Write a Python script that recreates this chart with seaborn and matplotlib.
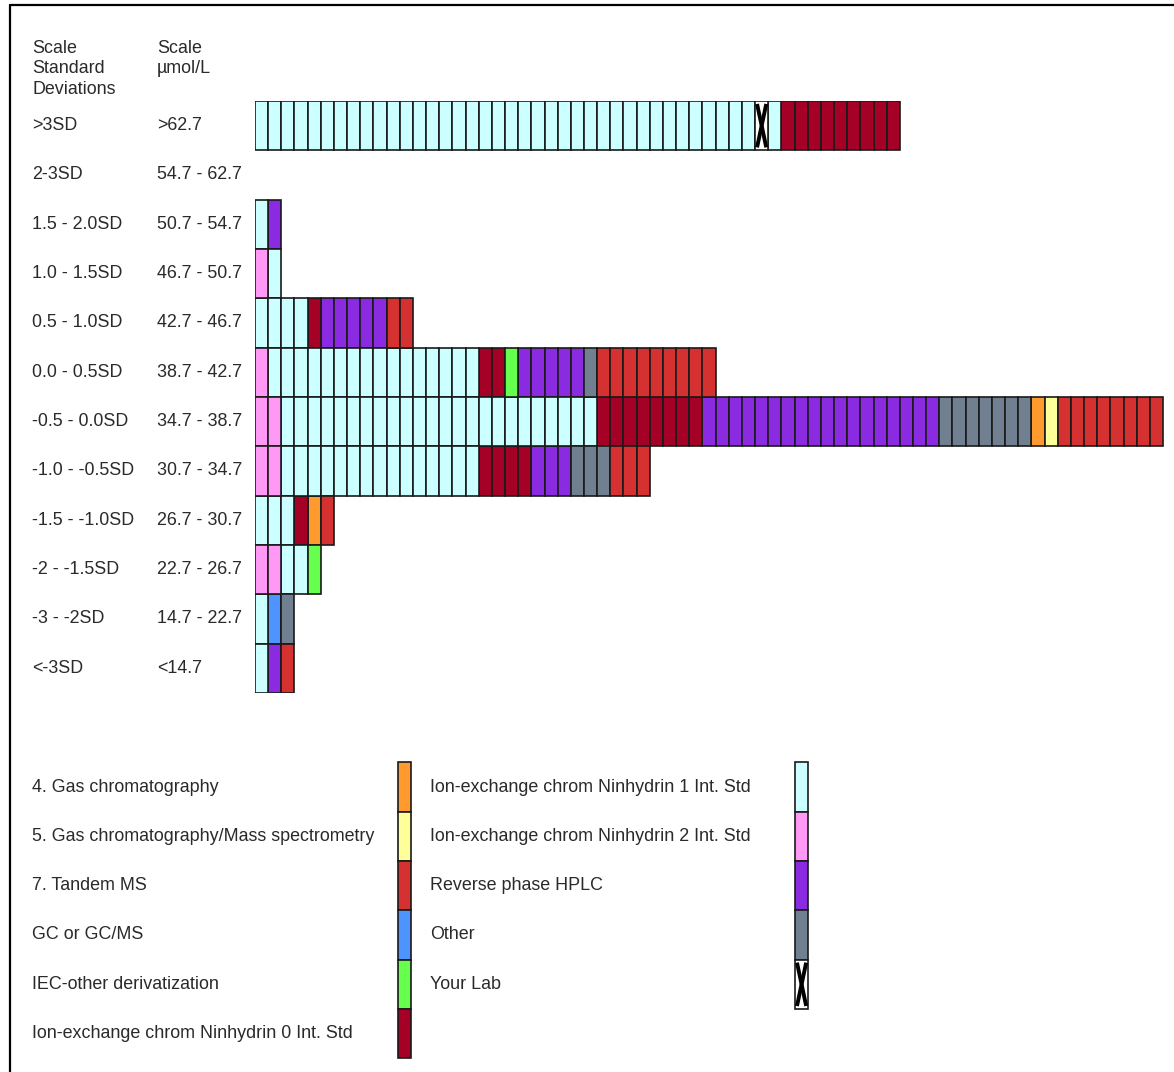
import matplotlib
matplotlib.use("Agg")
import matplotlib.pyplot as plt
from matplotlib import transforms
from matplotlib.lines import Line2D
import seaborn as sns
import pandas as pd

# Row labels (top to bottom)
sd_labels = [">3SD", "2-3SD", "1.5 - 2.0SD", "1.0 - 1.5SD", "0.5 - 1.0SD", "0.0 - 0.5SD",
             "-0.5 - 0.0SD", "-1.0 - -0.5SD", "-1.5 - -1.0SD", "-2 - -1.5SD", "-3 - -2SD", "<-3SD"]
umol_labels = [">62.7", "54.7 - 62.7", "50.7 - 54.7", "46.7 - 50.7", "42.7 - 46.7", "38.7 - 42.7",
               "34.7 - 38.7", "30.7 - 34.7", "26.7 - 30.7", "22.7 - 26.7", "14.7 - 22.7", "<14.7"]

# Laboratories per row, as runs of (method, number of labs) in drawing order
row_gt3 = [("IEC1", 38), ("LAB", 1), ("IEC1", 1), ("IEC0", 9)]
row_2_3 = []
row_15_20 = [("IEC1", 1), ("HPLC", 1)]
row_10_15 = [("IEC2", 1), ("IEC1", 1)]
row_05_10 = [("IEC1", 4), ("IEC0", 1), ("HPLC", 5), ("TMS", 2)]
row_00_05 = [("IEC2", 1), ("IEC1", 16), ("IEC0", 2), ("IECO", 1), ("HPLC", 5), ("OTH", 1), ("TMS", 9)]
row_m05_00 = [("IEC2", 2), ("IEC1", 24), ("IEC0", 8), ("HPLC", 18), ("OTH", 7), ("GC", 1), ("GCMS", 1), ("TMS", 8)]
row_m10_m05 = [("IEC2", 2), ("IEC1", 15), ("IEC0", 4), ("HPLC", 3), ("OTH", 3), ("TMS", 3)]
row_m15_m10 = [("IEC1", 3), ("IEC0", 1), ("GC", 1), ("TMS", 1)]
row_m2_m15 = [("IEC2", 2), ("IEC1", 2), ("IECO", 1)]
row_m3_m2 = [("IEC1", 1), ("GCX", 1), ("OTH", 1)]
row_lt_m3 = [("IEC1", 1), ("HPLC", 1), ("TMS", 1)]

rows = [row_gt3, row_2_3, row_15_20, row_10_15, row_05_10, row_00_05,
        row_m05_00, row_m10_m05, row_m15_m10, row_m2_m15, row_m3_m2, row_lt_m3]

# Legend columns
legend_left_keys = ["GC", "GCMS", "TMS", "GCX", "IECO", "IEC0"]
legend_left_names = ["4. Gas chromatography", "5. Gas chromatography/Mass spectrometry", "7. Tandem MS",
                     "GC or GC/MS", "IEC-other derivatization", "Ion-exchange chrom Ninhydrin 0 Int. Std"]
legend_right_keys = ["IEC1", "IEC2", "HPLC", "OTH", "LAB"]
legend_right_names = ["Ion-exchange chrom Ninhydrin 1 Int. Std", "Ion-exchange chrom Ninhydrin 2 Int. Std",
                      "Reverse phase HPLC", "Other", "Your Lab"]

palette = {
    "GC": "#FF9A2E", "GCMS": "#FFFF99", "TMS": "#D43130", "GCX": "#4D94FF",
    "IECO": "#66FF4D", "IEC0": "#A50026", "IEC1": "#CCFFFF", "IEC2": "#FF99F5",
    "HPLC": "#8A2BE2", "OTH": "#708090", "LAB": "#FFFFFF",
}

# Expand runs into one record per laboratory cell
records = []
for r, runs in enumerate(rows):
    pos = 0
    for method, n in runs:
        for _ in range(n):
            records.append({"row": r, "pos": pos, "method": method})
            pos += 1
cells = pd.DataFrame(records)

sns.set_theme(style="white")
plt.rcParams["font.family"] = ["Liberation Sans", "DejaVu Sans"]
TXT = "#2a2a2a"
FS = 12.9

W, H = 1174, 1072
fig = plt.figure(figsize=(W / 100, H / 100), dpi=100)
fig.patch.set_facecolor("white")

# Main cell chart
cell_px = 13.16
row_px = 49.33
left_px, top_px = 255, 101
ax = fig.add_axes([left_px / W, 1 - (top_px + 12 * row_px) / H, (W - left_px) / W, 12 * row_px / H])
ax.set_xlim(0, (W - left_px) / cell_px)
ax.set_ylim(11.5, -0.5)
ax.axis("off")


def draw_cross(axis, bar):
    x0, y0 = bar.get_x(), bar.get_y()
    w, h = bar.get_width(), bar.get_height()
    axis.plot([x0 + 0.15 * w, x0 + 0.85 * w], [y0 + 0.06 * h, y0 + 0.94 * h],
              color="black", lw=2.8, solid_capstyle="butt")
    axis.plot([x0 + 0.85 * w, x0 + 0.15 * w], [y0 + 0.06 * h, y0 + 0.94 * h],
              color="black", lw=2.8, solid_capstyle="butt")


for method, grp in cells.groupby("method"):
    bars = ax.barh(grp["row"], 1, left=grp["pos"], height=1, color=palette[method],
                   edgecolor="#1a1a1a", linewidth=1.2, align="center")
    if method == "LAB":
        for b in bars:
            draw_cross(ax, b)

# Row labels
trans = transforms.blended_transform_factory(fig.transFigure, ax.transData)
for i, (sd, um) in enumerate(zip(sd_labels, umol_labels)):
    ax.text(32 / W, i, sd, transform=trans, ha="left", va="center", fontsize=FS, color=TXT)
    ax.text(157 / W, i, um, transform=trans, ha="left", va="center", fontsize=FS, color=TXT)

# Column headers
fig.text(32 / W, 1 - 40 / H, "Scale\nStandard\nDeviations", ha="left", va="top",
         fontsize=FS, color=TXT, linespacing=1.25)
fig.text(157 / W, 1 - 40 / H, "Scale\nµmol/L", ha="left", va="top",
         fontsize=FS, color=TXT, linespacing=1.25)

# Legend panel in pixel units
lg = fig.add_axes([0, 0, 1, 1], zorder=-1)
lg.set_xlim(0, W)
lg.set_ylim(H, 0)
lg.axis("off")
leg_y0 = 787
for k, (key, name) in enumerate(zip(legend_left_keys, legend_left_names)):
    y = leg_y0 + k * row_px
    lg.barh(y, cell_px, left=398, height=row_px, color=palette[key], edgecolor="#1a1a1a", linewidth=1.2)
    lg.text(32, y, name, ha="left", va="center", fontsize=FS, color=TXT)
for k, (key, name) in enumerate(zip(legend_right_keys, legend_right_names)):
    y = leg_y0 + k * row_px
    bars = lg.barh(y, cell_px, left=795, height=row_px, color=palette[key], edgecolor="#1a1a1a", linewidth=1.2)
    lg.text(430, y, name, ha="left", va="center", fontsize=FS, color=TXT)
    if key == "LAB":
        draw_cross(lg, bars[0])

# Page frame (top and left edges)
fig.add_artist(Line2D([10 / W, 1], [1 - 5 / H, 1 - 5 / H], transform=fig.transFigure, color="black", lw=1.6))
fig.add_artist(Line2D([10 / W, 10 / W], [0, 1 - 5 / H], transform=fig.transFigure, color="black", lw=1.6))

fig.savefig("out.png", dpi=100, facecolor="white")
